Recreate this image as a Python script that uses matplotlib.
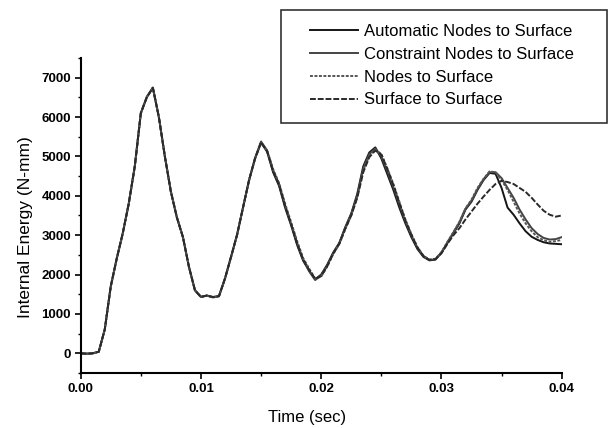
import numpy as np
import matplotlib
matplotlib.use("Agg")
import matplotlib.pyplot as plt
from matplotlib.patches import Rectangle
from matplotlib.ticker import MultipleLocator

plt.rcParams['font.family'] = ['Liberation Sans', 'DejaVu Sans']

# time samples (sec)
time = np.linspace(0.0, 0.04, 81)

auto_nodes = [0, -10, 0, 40, 600, 1700, 2400, 3050, 3800, 4750,
              6100, 6500, 6750, 6000, 5000, 4100, 3450, 2950, 2200, 1600,
              1430, 1470, 1420, 1450, 1900, 2450, 3000, 3700, 4400, 4950,
              5350, 5120, 4600, 4250, 3700, 3250, 2750, 2350, 2100, 1880,
              2000, 2250, 2560, 2800, 3200, 3550, 4050, 4750, 5100, 5230,
              4950, 4550, 4150, 3700, 3300, 2950, 2650, 2450, 2360, 2380,
              2550, 2800, 3050, 3300, 3650, 3850, 4150, 4400, 4580, 4560,
              4200, 3700, 3520, 3300, 3100, 2960, 2880, 2820, 2790, 2780, 2770]

constraint_nodes = [0, -10, 0, 40, 610, 1700, 2420, 3050, 3820, 4760,
                    6100, 6520, 6740, 6010, 5000, 4120, 3450, 2960, 2200, 1600,
                    1440, 1460, 1430, 1460, 1900, 2440, 3010, 3710, 4380, 4960,
                    5380, 5150, 4650, 4300, 3750, 3280, 2800, 2380, 2080, 1860,
                    1980, 2230, 2540, 2790, 3190, 3540, 4000, 4700, 5060, 5200,
                    5000, 4620, 4220, 3780, 3350, 2990, 2680, 2470, 2370, 2390,
                    2560, 2820, 3070, 3330, 3670, 3880, 4170, 4420, 4600, 4600,
                    4450, 4200, 3950, 3650, 3400, 3180, 3030, 2930, 2890, 2900, 2950]

nodes_surface = [0, -10, 0, 40, 600, 1690, 2400, 3040, 3800, 4740,
                 6090, 6510, 6750, 6000, 5010, 4110, 3460, 2950, 2210, 1610,
                 1430, 1460, 1420, 1450, 1890, 2440, 3000, 3690, 4390, 4940,
                 5340, 5160, 4680, 4320, 3800, 3330, 2850, 2420, 2150, 1900,
                 1950, 2200, 2520, 2770, 3150, 3500, 3980, 4650, 5020, 5180,
                 5060, 4700, 4300, 3850, 3400, 3030, 2700, 2480, 2380, 2400,
                 2570, 2830, 3080, 3340, 3680, 3900, 4200, 4430, 4620, 4600,
                 4400, 4150, 3850, 3550, 3300, 3100, 2950, 2870, 2830, 2850, 2880]

surface_surface = [0, -10, 0, 40, 600, 1700, 2410, 3050, 3810, 4750,
                   6100, 6500, 6740, 6000, 5000, 4100, 3450, 2950, 2200, 1600,
                   1430, 1470, 1430, 1450, 1900, 2450, 3000, 3700, 4400, 4950,
                   5360, 5140, 4620, 4280, 3740, 3280, 2780, 2380, 2120, 1890,
                   1960, 2210, 2530, 2780, 3160, 3500, 3950, 4600, 4980, 5150,
                   5050, 4680, 4280, 3820, 3380, 3010, 2690, 2470, 2370, 2390,
                   2540, 2780, 3000, 3180, 3400, 3600, 3800, 3980, 4150, 4300,
                   4380, 4350, 4300, 4200, 4100, 3950, 3780, 3620, 3520, 3470, 3500]

labels = ["Automatic Nodes to Surface", "Constraint Nodes to Surface",
          "Nodes to Surface", "Surface to Surface"]
series = [auto_nodes, constraint_nodes, nodes_surface, surface_surface]
colors = ["#151515", "#444444", "#555555", "#2a2a2a"]
styles = ["-", "-", (0, (1.5, 0.8)), (0, (3, 1))]

xticks = [0.00, 0.01, 0.02, 0.03, 0.04]
xticklabels = ["0.00", "0.01", "0.02", "0.03", "0.04"]
yticks = [0, 1000, 2000, 3000, 4000, 5000, 6000, 7000]
yticklabels = ["0", "1000", "2000", "3000", "4000", "5000", "6000", "7000"]

fig = plt.figure(figsize=(6.09, 4.28), dpi=100)
ax = fig.add_axes([0.1325, 0.1285, 0.7898, 0.736])

handles = []
for vals, lab, c, ls in zip(series, labels, colors, styles):
    h, = ax.plot(time, vals, color=c, lw=1.4, ls=ls, label=lab)
    handles.append(h)

ax.set_xlim(0, 0.04)
ax.set_ylim(-500, 7500)
ax.set_xticks(xticks)
ax.set_xticklabels(xticklabels, fontweight='bold', fontsize=9.5)
ax.set_yticks(yticks)
ax.set_yticklabels(yticklabels, fontweight='bold', fontsize=9.5)
ax.xaxis.set_minor_locator(MultipleLocator(0.005))
ax.yaxis.set_minor_locator(MultipleLocator(500))
ax.tick_params(which='major', direction='out', length=4.5, width=1.2, pad=2.5)
ax.tick_params(which='minor', direction='out', length=2.5, width=1.0)
for s in ['top', 'right']:
    ax.spines[s].set_visible(False)
for s in ['left', 'bottom']:
    ax.spines[s].set_linewidth(1.5)

ax.set_xlabel("Time (sec)", fontsize=12)
ax.set_ylabel("Internal Energy (N-mm)", fontsize=12.5)
ax.xaxis.set_label_coords(0.470, -0.118)
ax.yaxis.set_label_coords(-0.100, 0.4635)

# legend frame
W, H = 609.0, 428.0
rect = Rectangle((281 / W, 1 - 123 / H), (607 - 281) / W, 113 / H,
                 transform=fig.transFigure, facecolor='white',
                 edgecolor='#333333', lw=1.2, zorder=5)
fig.add_artist(rect)
leg = fig.legend(handles=handles, labels=labels, loc='upper left',
                 bbox_to_anchor=(310 / W, 1 - 24 / H), frameon=False,
                 borderpad=0, borderaxespad=0, handlelength=2.85,
                 handletextpad=0.42, labelspacing=0.47, fontsize=12)
leg.set_zorder(6)

fig.savefig("out.png", dpi=100)
